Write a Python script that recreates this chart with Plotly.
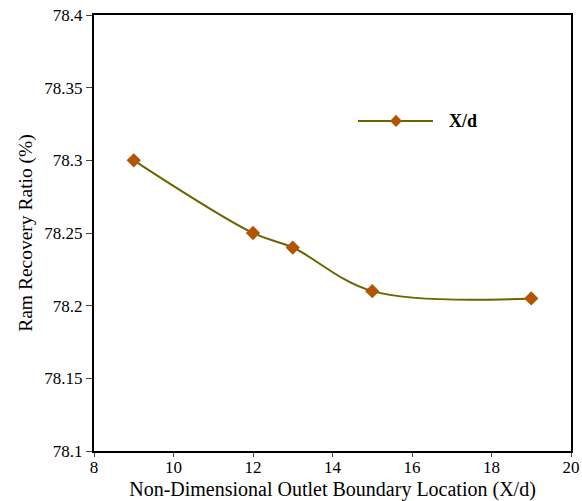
import plotly.graph_objects as go

x_vals = [9, 12, 13, 15, 19]
y_vals = [78.30, 78.25, 78.24, 78.21, 78.205]
series_name = "X/d"
x_ticks = [8, 10, 12, 14, 16, 18, 20]
y_ticks = [78.1, 78.15, 78.2, 78.25, 78.3, 78.35, 78.4]
y_tick_text = ["78.1", "78.15", "78.2", "78.25", "78.3", "78.35", "78.4"]

line_color = "#6b6500"
marker_color = "#b35400"
font_family = "Liberation Serif"

fig = go.Figure()
fig.add_trace(go.Scatter(
    x=x_vals, y=y_vals, name=series_name, mode="lines+markers",
    line=dict(color=line_color, width=2, shape="spline", smoothing=1),
    marker=dict(symbol="diamond", size=11, color=marker_color),
    showlegend=False,
))

# Manual legend sample (line + diamond + bold label), placed in paper coordinates
leg_y = 0.757
leg_x0, leg_x1, leg_xm = 0.5535, 0.7107, 0.6331
dx, dy = 0.0126, 0.0140
fig.add_shape(type="line", xref="paper", yref="paper",
              x0=leg_x0, x1=leg_x1, y0=leg_y, y1=leg_y,
              line=dict(color=line_color, width=2))
fig.add_shape(type="path", xref="paper", yref="paper",
              path=(f"M {leg_xm - dx} {leg_y} L {leg_xm} {leg_y + dy} "
                    f"L {leg_xm + dx} {leg_y} L {leg_xm} {leg_y - dy} Z"),
              fillcolor=marker_color, line=dict(color=marker_color, width=0))
fig.add_annotation(xref="paper", yref="paper", x=0.740, y=leg_y,
                   xanchor="left", yanchor="middle", showarrow=False,
                   text="<b>" + series_name + "</b>",
                   font=dict(size=18, family=font_family, color="black"))

fig.update_layout(
    width=582, height=501,
    margin=dict(l=94, r=11, t=15, b=50),
    paper_bgcolor="white", plot_bgcolor="white",
    font=dict(family=font_family, color="black", size=17),
    showlegend=False,
)
fig.update_xaxes(
    range=[8, 20], tickvals=x_ticks, ticks="outside", ticklen=4, tickwidth=1,
    ticklabelstandoff=-4,
    showline=True, linecolor="black", linewidth=2, mirror=True, showgrid=False,
    zeroline=False, tickfont=dict(size=17, family=font_family), automargin=False,
    title=dict(text="Non-Dimensional Outlet Boundary Location (X/d)",
               font=dict(size=20, family=font_family), standoff=8),
)
fig.update_yaxes(
    range=[78.1, 78.4], tickvals=y_ticks, ticktext=y_tick_text, ticks="outside", ticklen=6, tickwidth=1,
    showline=True, linecolor="black", linewidth=2, mirror=True, showgrid=False,
    zeroline=False, tickfont=dict(size=17, family=font_family), automargin=False,
    title=dict(text="Ram Recovery Ratio (%)", font=dict(size=19.5, family=font_family), standoff=7),
)
fig.write_html("out.html", config={"displayModeBar": False},
               post_script="document.body.style.margin='0';")
